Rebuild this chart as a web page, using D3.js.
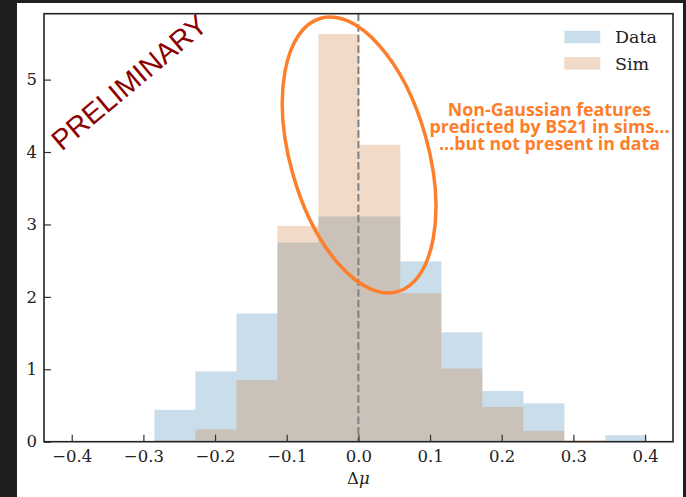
<!DOCTYPE html>
<html>
<head>
<meta charset="utf-8">
<script src="https://cdn.jsdelivr.net/npm/d3@7"></script>
<style>
  html, body { margin: 0; padding: 0; background: #1f1f1f; }
  svg { display: block; }
</style>
</head>
<body>
<svg id="chart" width="686" height="497"></svg>
<script>
// Histogram bin edges (Δμ) shared by both samples
const binEdges = [-0.2846, -0.2274, -0.1702, -0.1130, -0.0558, 0.0014, 0.0586,
                  0.1158, 0.1730, 0.2302, 0.2874, 0.3446, 0.4018];
// Normalised counts per bin
const dataDensity = [0.44, 0.97, 1.77, 2.75, 3.11, 3.11, 2.49, 1.51, 0.70, 0.53, 0.00, 0.09];
const simDensity  = [0.02, 0.17, 0.85, 2.98, 5.63, 4.10, 2.05, 1.01, 0.48, 0.15, 0.02, 0.00];
const seriesNames = ["Data", "Sim"];
const xTicks = [-0.4, -0.3, -0.2, -0.1, 0.0, 0.1, 0.2, 0.3, 0.4];
const yTicks = [0, 1, 2, 3, 4, 5];
const noteLines = ["Non-Gaussian features", "predicted by BS21 in sims...", "...but not present in data"];

const svg = d3.select("#chart");
const W = 686, H = 497;
const margin = {left: 44, right: 13, top: 13.7, bottom: 55.3};

// white canvas inside the dark frame
svg.append("rect").attr("x", 17).attr("y", 3).attr("width", 666).attr("height", H - 3).attr("fill", "#ffffff");

const x = d3.scaleLinear().domain([-0.4387, 0.439]).range([margin.left, W - margin.right]);
const y = d3.scaleLinear().domain([0, 5.91]).range([H - margin.bottom, margin.top]);

const colors = {Data: "#3f86b8", Sim: "#cc7a35"};
const fillOpacity = 0.28;

function bins(values) {
  return values.map((v, i) => ({x0: binEdges[i], x1: binEdges[i + 1], v}));
}

const plot = svg.append("g");
[[dataDensity, "Data"], [simDensity, "Sim"]].forEach(([vals, name]) => {
  plot.append("g").selectAll("rect")
    .data(bins(vals).filter(d => d.v > 0))
    .join("rect")
    .attr("x", d => x(d.x0))
    .attr("width", d => x(d.x1) - x(d.x0))
    .attr("y", d => y(d.v))
    .attr("height", d => y(0) - y(d.v))
    .attr("fill", colors[name])
    .attr("fill-opacity", fillOpacity);
});

// reference line at Δμ = 0
svg.append("line")
  .attr("x1", x(0)).attr("x2", x(0))
  .attr("y1", y(5.91)).attr("y2", y(0))
  .attr("stroke", "#808080").attr("stroke-width", 2)
  .attr("stroke-dasharray", "7.4,3.2");

// highlight ellipse around the central sim bins
const orange = "#fd7f2c";
svg.append("ellipse")
  .attr("transform", `translate(${x(0.001)},${y(3.96)}) rotate(-15.7)`)
  .attr("rx", 69).attr("ry", 142)
  .attr("fill", "none").attr("stroke", orange).attr("stroke-width", 3.5);

// annotation
const note = svg.append("text")
  .attr("font-family", "'Open Sans', 'Noto Sans', sans-serif")
  .attr("font-weight", "bold").attr("font-size", 17.8)
  .attr("fill", orange).attr("text-anchor", "middle");
noteLines.forEach((t, i) => {
  note.append("tspan").attr("x", 549.5).attr("y", 116 + i * 17).text(t);
});

// watermark
svg.append("text")
  .attr("transform", "translate(129,82) rotate(-40)")
  .attr("text-anchor", "middle").attr("dy", "0.36em")
  .attr("font-family", "'Liberation Sans', Arial, sans-serif")
  .attr("font-size", 28.5).attr("fill", "#8b0000")
  .text("PRELIMINARY");

// axes
const fmt = d => d3.format(".1f")(d).replace("-", "\u2212");
const xAxis = d3.axisBottom(x).tickValues(xTicks).tickFormat(fmt).tickSizeInner(-7).tickSizeOuter(0).tickPadding(9);
const yAxis = d3.axisLeft(y).tickValues(yTicks).tickFormat(d3.format("d")).tickSizeInner(-7).tickSizeOuter(0).tickPadding(7);

const gx = svg.append("g").attr("transform", `translate(0,${y(0)})`).call(xAxis);
const gy = svg.append("g").attr("transform", `translate(${x.range()[0]},0)`).call(yAxis);
[gx, gy].forEach(g => {
  g.select(".domain").remove();
  g.selectAll(".tick line").attr("stroke", "#333").attr("stroke-width", 1.2);
  g.selectAll(".tick text").attr("font-family", "'DejaVu Serif', serif").attr("font-size", 16.5).attr("fill", "#222");
});
gx.selectAll(".tick text").attr("dy", "0.71em");

// frame
svg.append("rect")
  .attr("x", x.range()[0]).attr("y", y.range()[1])
  .attr("width", x.range()[1] - x.range()[0]).attr("height", y.range()[0] - y.range()[1])
  .attr("fill", "none").attr("stroke", "#222").attr("stroke-width", 1.6);

// x label
const xl = svg.append("text")
  .attr("x", x(0)).attr("y", 484)
  .attr("text-anchor", "middle")
  .attr("font-family", "'DejaVu Serif', serif").attr("font-size", 16.5).attr("fill", "#222");
xl.append("tspan").text("\u0394");
xl.append("tspan").attr("font-style", "italic").text("\u03bc");

// legend
const legend = svg.append("g");
seriesNames.forEach((name, i) => {
  const gy0 = 30.7 + i * 26.3;
  legend.append("rect")
    .attr("x", 564.3).attr("y", gy0).attr("width", 36).attr("height", 12.6)
    .attr("fill", colors[name]).attr("fill-opacity", fillOpacity);
  legend.append("text")
    .attr("x", 615).attr("y", gy0 + 12.6)
    .attr("font-family", "'DejaVu Serif', serif").attr("font-size", 17.5).attr("fill", "#222")
    .text(name);
});
</script>
</body>
</html>
